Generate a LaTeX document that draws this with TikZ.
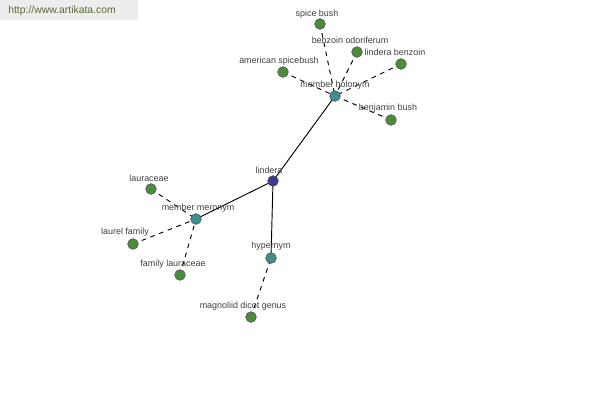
\documentclass[tikz,border=0pt]{standalone}
\usepackage{fontspec}
\setmainfont{Liberation Sans}
\begin{document}
\begin{tikzpicture}[x=0.75pt,y=-0.75pt,
  leaf/.style={circle,draw=black!70,fill=leafgreen,minimum size=8pt,inner sep=0pt,line width=0.4pt},
  hub/.style={circle,draw=black!70,fill=hubteal,minimum size=8pt,inner sep=0pt,line width=0.4pt},
  root/.style={circle,draw=black!70,fill=rootblue,minimum size=8pt,inner sep=0pt,line width=0.4pt},
  lbl/.style={font=\fontsize{6.7}{8}\selectfont,text=black!75,inner sep=0pt},
  solidedge/.style={draw=black,line width=0.7pt},
  dashedge/.style={draw=black,line width=0.7pt,dash pattern=on 3.5pt off 3.5pt}]
\definecolor{leafgreen}{HTML}{4A8C3C}
\definecolor{hubteal}{HTML}{3E8E8E}
\definecolor{rootblue}{HTML}{3C3C8E}
\definecolor{wmgray}{HTML}{EDEDED}
\definecolor{wmtext}{HTML}{5A6A3A}
\useasboundingbox[fill=white] (0,0) rectangle (600,400);
\fill[wmgray] (0,0) rectangle (138,20);
\node[font=\fontsize{7.8}{9}\selectfont,text=wmtext,anchor=west,inner sep=0pt] (wm) at (8,11) {http://www.artikata.com};
% edges first
\coordinate (cl) at (273,181);
\coordinate (ch) at (335,96);
\coordinate (cm) at (196,219);
\coordinate (cy) at (271,258);
\coordinate (c1) at (320,24);
\coordinate (c2) at (357,52);
\coordinate (c3) at (401,64);
\coordinate (c4) at (283,72);
\coordinate (c5) at (391,120);
\coordinate (c6) at (151,189);
\coordinate (c7) at (133,244);
\coordinate (c8) at (180,275);
\coordinate (c9) at (251,317);
\draw[solidedge] (cl) -- (ch);
\draw[solidedge] (cl) -- (cm);
\draw[solidedge] (cl) -- (cy);
\draw[dashedge] (c1) -- (ch);
\draw[dashedge] (c2) -- (ch);
\draw[dashedge] (c3) -- (ch);
\draw[dashedge] (c4) -- (ch);
\draw[dashedge] (c5) -- (ch);
\draw[dashedge] (c6) -- (cm);
\draw[dashedge] (c7) -- (cm);
\draw[dashedge] (c8) -- (cm);
\draw[dashedge] (c9) -- (cy);
% nodes
\node[root] (lindera) at (cl) {};
\node[hub] (holonym) at (ch) {};
\node[hub] (meronym) at (cm) {};
\node[hub] (hypernym) at (cy) {};
\node[leaf] (spice) at (c1) {};
\node[leaf] (benzoinod) at (c2) {};
\node[leaf] (linderab) at (c3) {};
\node[leaf] (american) at (c4) {};
\node[leaf] (benjamin) at (c5) {};
\node[leaf] (lauraceae) at (c6) {};
\node[leaf] (laurel) at (c7) {};
\node[leaf] (familyl) at (c8) {};
\node[leaf] (magnoliid) at (c9) {};
% labels
\node[lbl] (tl) at (269,170) {lindera};
\node[lbl] (th) at (335,85) {member holonym};
\node[lbl] (tm) at (198,208) {member meronym};
\node[lbl] (ty) at (271,246) {hypernym};
\node[lbl] (t1) at (317,14) {spice bush};
\node[lbl] (t2) at (350,40) {benzoin odoriferum};
\node[lbl] (t3) at (395,52) {lindera benzoin};
\node[lbl] (t4) at (279,61) {american spicebush};
\node[lbl] (t5) at (388,108) {benjamin bush};
\node[lbl] (t6) at (149,178) {lauraceae};
\node[lbl] (t7) at (125,232) {laurel family};
\node[lbl] (t8) at (173,264) {family lauraceae};
\node[lbl] (t9) at (243,306) {magnoliid dicot genus};
\end{tikzpicture}
\end{document}
